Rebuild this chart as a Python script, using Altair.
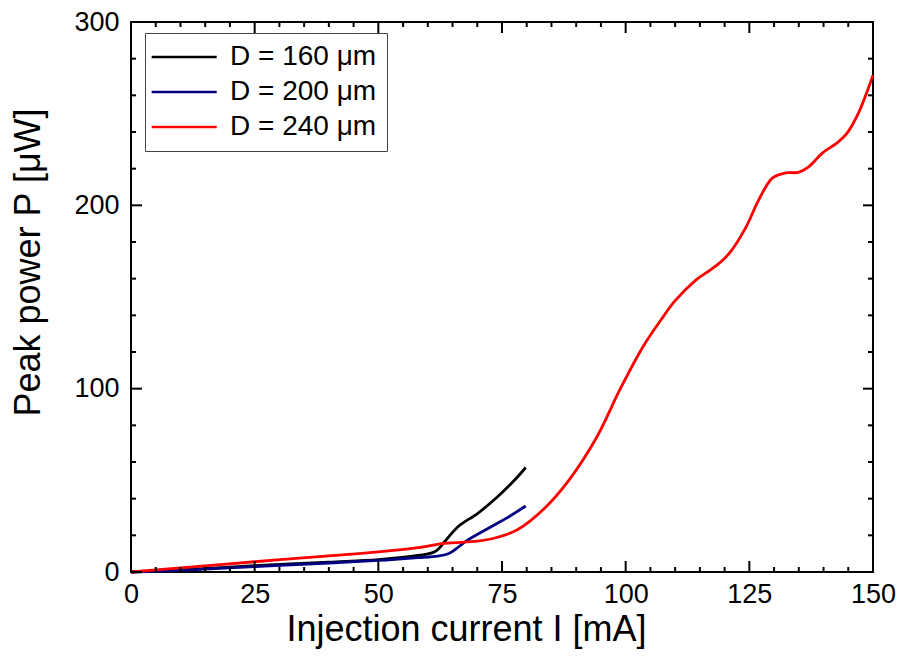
import altair as alt
import pandas as pd

# ---- data ----
series_names = ["D = 160 \u03bcm", "D = 200 \u03bcm", "D = 240 \u03bcm"]
series_colors = ["#000000", "#000080", "#ff0000"]

x160 = [0, 10, 25, 40, 50, 58, 61.4, 63.4, 66.1, 70.1, 74.1, 77.5, 79.8]
y160 = [0, 1.1, 3.4, 5.4, 6.8, 9.0, 11.0, 16.5, 24.7, 32.0, 41.0, 50.0, 57.0]

x200 = [0, 10, 25, 40, 50, 58, 62, 64, 65.4, 68.1, 72.8, 76, 79.8]
y200 = [0, 0.9, 2.9, 4.9, 6.3, 7.8, 8.7, 9.8, 12.0, 17.5, 24.7, 29.5, 36.0]

x240 = [0, 10, 25, 40, 50, 58, 63.4, 70, 73.4, 78.1, 83.5, 88.5, 94.2, 98.8,
        103.5, 107.6, 110, 114.3, 117, 119, 121, 124.3, 126.9, 129.7, 132.3,
        134.9, 137, 139.8, 143, 144.8, 147, 150]
y240 = [0, 2.2, 5.6, 8.8, 11.0, 13.3, 15.6, 16.8, 18.4, 23.0, 34.5, 50.0, 73.8,
        99.3, 122.9, 139.3, 148.0, 159.5, 164.5, 168.6, 174.0, 188.0, 203.0,
        215.0, 217.7, 218.0, 221.0, 228.6, 234.6, 239.5, 250.0, 271.0]

x_major = [0, 25, 50, 75, 100, 125, 150]
x_minor = [v for v in range(5, 150, 5) if v % 25 != 0]
y_major = [0, 100, 200, 300]
y_minor = [v for v in range(20, 300, 20) if v % 100 != 0]

W, H = 742, 550
FONT = "Liberation Sans"

rows = []
for name, xs, ys in zip(series_names, [x160, x200, x240], [y160, y200, y240]):
    for a, b in zip(xs, ys):
        rows.append({"I": a, "P": b, "series": name})
df = pd.DataFrame(rows)

xscale = alt.Scale(domain=[0, 150], nice=False, zero=False)
yscale = alt.Scale(domain=[0, 300], nice=False, zero=False)

lines = alt.Chart(df).mark_line(strokeWidth=2.8, interpolate="catmull-rom").encode(
    x=alt.X("I:Q", scale=xscale,
            axis=alt.Axis(title="Injection current I [mA]", values=x_major,
                          labelPadding=9, titlePadding=5, titleX=335)),
    y=alt.Y("P:Q", scale=yscale,
            axis=alt.Axis(title="Peak power P [\u03bcW]", values=y_major,
                          labelPadding=12, titlePadding=26, titleY=240)),
    color=alt.Color("series:N",
                    scale=alt.Scale(domain=series_names, range=series_colors),
                    legend=alt.Legend(title=None, orient="none", legendX=14, legendY=11,
                                      symbolType="M-1.6,0H4.4", symbolSize=470,
                                      symbolStrokeWidth=2.5, labelFontSize=28,
                                      labelFont=FONT, labelColor="black",
                                      labelLimit=400, labelOffset=47,
                                      padding=10, rowPadding=7,
                                      strokeColor="#444444", fillColor="white")),
    order=alt.Order("I:Q"),
)

def xticks(vals, length, top):
    d = pd.DataFrame({"I": vals})
    if top:
        yv, y2v = alt.value(0), alt.value(length)
    else:
        yv, y2v = alt.value(H), alt.value(H - length)
    return alt.Chart(d).mark_rule(color="black", strokeWidth=2).encode(
        x=alt.X("I:Q", scale=xscale), y=yv, y2=y2v)

def yticks(vals, length, right):
    d = pd.DataFrame({"P": vals})
    if right:
        xv, x2v = alt.value(W), alt.value(W - length)
    else:
        xv, x2v = alt.value(0), alt.value(length)
    return alt.Chart(d).mark_rule(color="black", strokeWidth=2).encode(
        y=alt.Y("P:Q", scale=yscale), x=xv, x2=x2v)

ticks = [
    xticks(x_major, 11, False), xticks(x_minor, 5, False),
    xticks(x_major, 11, True), xticks(x_minor, 5, True),
    yticks(y_major, 11, False), yticks(y_minor, 5, False),
    yticks(y_major, 10, True), yticks(y_minor, 5, True),
]

chart = alt.layer(lines, *ticks).properties(
    width=W, height=H,
    background="white",
    autosize=alt.AutoSizeParams(type="none"),
    padding={"left": 123, "top": 14, "right": 23, "bottom": 85},
).configure_view(stroke="black", strokeWidth=2).configure_axis(
    ticks=False, domain=False, grid=False,
    labelFontSize=27, labelFont=FONT, labelColor="black", labelFlush=False,
    titleFont=FONT, titleFontSize=36, titleFontWeight="normal", titleColor="black",
)

chart.save("out.html", embed_options={"renderer": "svg", "actions": False})
